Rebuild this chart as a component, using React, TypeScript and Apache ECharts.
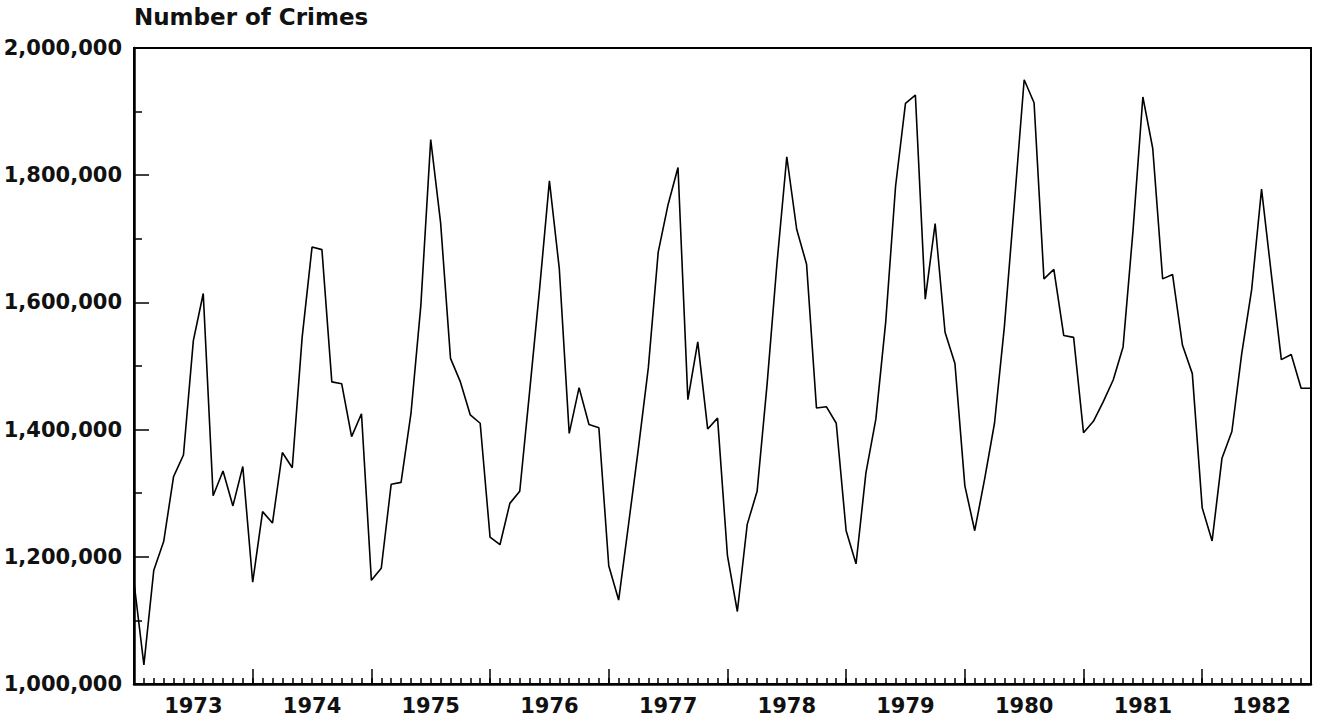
import React, { useEffect, useRef } from "react";
import * as echarts from "echarts";

const yearLabels = [1973, 1974, 1975, 1976, 1977, 1978, 1979, 1980, 1981, 1982];

const crimes1973 = [1160000, 1030000, 1179000, 1224000, 1326000, 1360000, 1540000, 1614000, 1296000, 1335000, 1280000, 1342000];
const crimes1974 = [1160000, 1271000, 1253000, 1364000, 1340000, 1545000, 1687000, 1683000, 1475000, 1472000, 1389000, 1425000];
const crimes1975 = [1163000, 1182000, 1314000, 1317000, 1425000, 1595000, 1856000, 1725000, 1512000, 1475000, 1423000, 1410000];
const crimes1976 = [1231000, 1219000, 1284000, 1303000, 1460000, 1620000, 1791000, 1653000, 1394000, 1466000, 1408000, 1403000];
const crimes1977 = [1186000, 1132000, 1251000, 1371000, 1497000, 1679000, 1754000, 1812000, 1447000, 1538000, 1401000, 1418000];
const crimes1978 = [1202000, 1114000, 1251000, 1303000, 1470000, 1660000, 1829000, 1715000, 1660000, 1434000, 1436000, 1410000];
const crimes1979 = [1241000, 1189000, 1332000, 1416000, 1569000, 1783000, 1913000, 1926000, 1605000, 1724000, 1553000, 1504000];
const crimes1980 = [1312000, 1241000, 1322000, 1410000, 1562000, 1754000, 1950000, 1914000, 1637000, 1652000, 1548000, 1545000];
const crimes1981 = [1395000, 1413000, 1444000, 1478000, 1530000, 1712000, 1923000, 1842000, 1637000, 1644000, 1533000, 1488000];
const crimes1982 = [1277000, 1225000, 1355000, 1397000, 1520000, 1620000, 1778000, 1643000, 1510000, 1518000, 1465000, 1465000];

const yearlySeries = [
  crimes1973, crimes1974, crimes1975, crimes1976, crimes1977,
  crimes1978, crimes1979, crimes1980, crimes1981, crimes1982,
];

const FONT = "DejaVu Sans";

export default function App() {
  const ref = useRef<HTMLDivElement | null>(null);

  useEffect(() => {
    if (!ref.current) return;
    const chart = echarts.init(ref.current, undefined, { renderer: "svg" });

    const monthly: number[] = [];
    yearlySeries.forEach((arr) => arr.forEach((v) => monthly.push(v)));
    const points = monthly.map((v, i) => [i, v]);
    const maxIndex = monthly.length - 1;

    const commonX = {
      type: "value",
      min: 0,
      max: maxIndex,
      position: "bottom",
      offset: 0,
      splitLine: { show: false },
    };

    chart.setOption({
      animation: false,
      backgroundColor: "#ffffff",
      title: {
        text: "Number of Crimes",
        left: 134,
        top: 5,
        padding: 0,
        textStyle: {
          fontFamily: FONT,
          fontSize: 23,
          fontWeight: "bold",
          color: "#111",
        },
      },
      grid: {
        left: 134,
        right: 9,
        top: 48,
        bottom: 40,
        show: true,
        borderColor: "#000",
        borderWidth: 2,
        backgroundColor: "transparent",
      },
      xAxis: [
        {
          ...commonX,
          interval: 1,
          axisLine: { show: true, lineStyle: { color: "#000", width: 2.5 } },
          axisTick: { show: true, inside: true, length: 6, lineStyle: { color: "#000", width: 1.5 } },
          axisLabel: { show: false },
        },
        {
          ...commonX,
          interval: 12,
          axisLine: { show: false },
          axisTick: { show: true, inside: true, length: 15, lineStyle: { color: "#000", width: 1.5 } },
          axisLabel: { show: false },
        },
        {
          ...commonX,
          interval: 6,
          axisLine: { show: false },
          axisTick: { show: false },
          axisLabel: {
            show: true,
            margin: 11,
            fontFamily: FONT,
            fontSize: 21,
            fontWeight: "bold",
            color: "#111",
            formatter: (v: number) => {
              if (v % 12 !== 6) return "";
              const idx = (v - 6) / 12;
              return idx >= 0 && idx < yearLabels.length ? String(yearLabels[idx]) : "";
            },
          },
        },
      ],
      yAxis: {
        type: "value",
        min: 1000000,
        max: 2000000,
        interval: 200000,
        splitLine: { show: false },
        axisLine: { show: true, lineStyle: { color: "#000", width: 2.5 } },
        axisTick: { show: true, inside: true, length: 15, lineStyle: { color: "#000", width: 1.5 } },
        minorTick: { show: true, splitNumber: 2, length: 8, lineStyle: { color: "#000", width: 1.5 } },
        axisLabel: {
          margin: 12,
          fontFamily: FONT,
          fontSize: 21,
          fontWeight: "bold",
          color: "#111",
          formatter: (v: number) => v.toLocaleString("en-US"),
        },
      },
      series: [
        {
          type: "line",
          xAxisIndex: 0,
          data: points,
          showSymbol: false,
          symbol: "none",
          lineStyle: { color: "#000", width: 1.6 },
          silent: true,
        },
      ],
    });

    return () => chart.dispose();
  }, []);

  return (
    <div
      ref={ref}
      style={{ position: "fixed", left: 0, top: 0, width: 1320, height: 724, background: "#fff" }}
    />
  );
}
